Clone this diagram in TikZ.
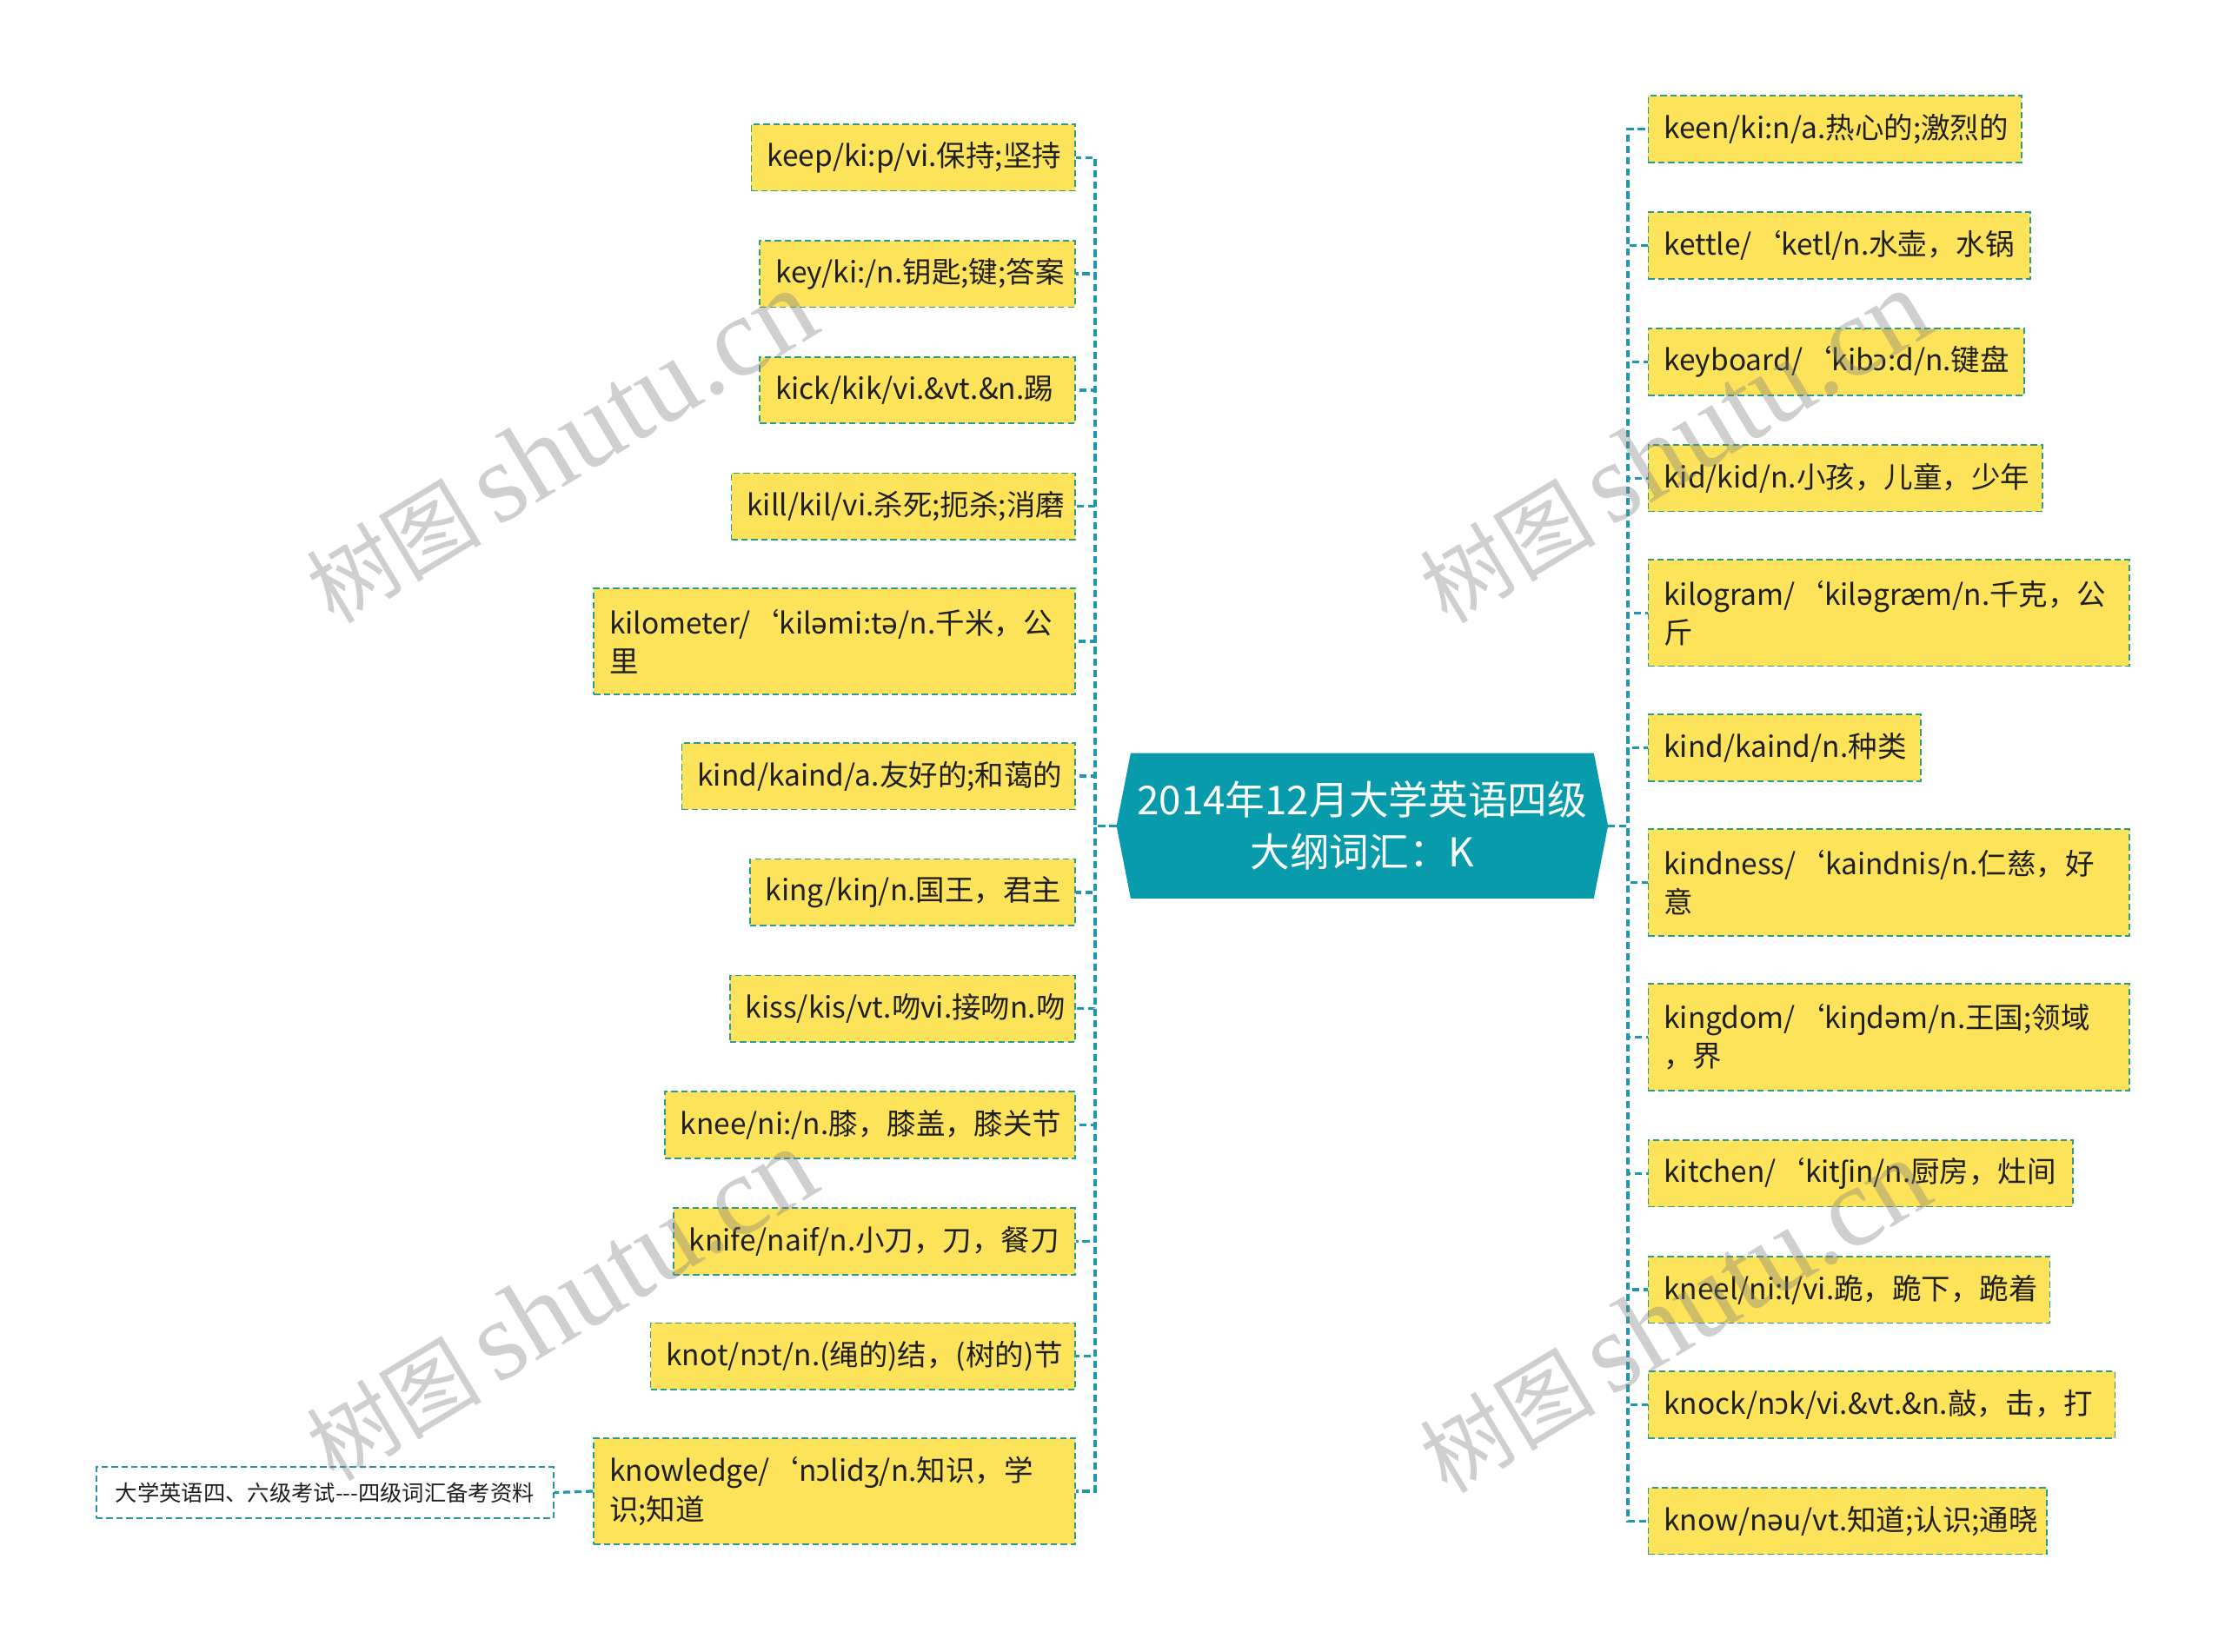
\documentclass[tikz,border=0pt]{standalone}
\usepackage{fontspec}
\setmainfont{Noto Sans CJK SC}
\newfontfamily\ipafont{Noto Sans}
\newfontfamily\wmlatin{Liberation Serif}
\newcommand\ip[1]{{\ipafont #1}}
\usetikzlibrary{backgrounds}
\definecolor{boxfill}{HTML}{FDE35A}
\definecolor{boxline}{HTML}{2A9A93}
\definecolor{connc}{HTML}{1E98AC}
\definecolor{rootfill}{HTML}{079BAB}
\definecolor{notline}{HTML}{2E90A4}
\tikzset{
  leaf/.style={draw=boxline, line width=1.1pt, dash pattern=on 4.5pt off 2.5pt,
    fill=boxfill, font=\fontsize{20.5}{27}\selectfont, text=black!88,
    inner xsep=11pt, inner ysep=0pt, minimum height=47pt, align=left},
  twoline/.style={minimum height=75pt},
  conn/.style={draw=connc, line width=2pt, dash pattern=on 5pt off 3pt},
  rootnode/.style={minimum width=346pt, minimum height=102pt, inner sep=0pt,
    align=center, font=\fontsize{28}{37}\selectfont, text=white},
  notebox/.style={draw=notline, line width=1.1pt, dash pattern=on 4.5pt off 2.5pt,
    fill=white, font=\fontsize{15.5}{20}\selectfont, text=black!88,
    minimum width=322pt, minimum height=36pt, inner sep=0pt},
  wm/.style={rotate=31, text=gray, opacity=0.38}
}
\begin{document}
\begin{tikzpicture}[x=1pt,y=-1pt]
\useasboundingbox (0,0) rectangle (1568,1164);
% root
\node[rootnode] (root) at (960,582) {2014年12月大学英语四级\\大纲词汇：K};
\begin{scope}[on background layer]
\fill[rootfill] (root.west) -- ([xshift=10pt]root.north west) -- ([xshift=-10pt]root.north east)
  -- (root.east) -- ([xshift=-10pt]root.south east) -- ([xshift=10pt]root.south west) -- cycle;
\end{scope}
% left leaves
\node[leaf,anchor=east,text width=206pt] (L1) at (758,111) {keep/ki:p/vi.保持;坚持};
\node[leaf,anchor=east,text width=200pt] (L2) at (758,193) {key/ki:/n.钥匙;键;答案};
\node[leaf,anchor=east,text width=200pt] (L3) at (758,275) {kick/kik/vi.\&vt.\&n.踢};
\node[leaf,anchor=east,text width=220pt] (L4) at (758,357) {kill/kil/vi.杀死;扼杀;消磨};
\node[leaf,twoline,anchor=east,text width=317pt] (L5) at (758,452) {kilometer/‘kil\ip{ə}mi:t\ip{ə}/n.千米，公\\里};
\node[leaf,anchor=east,text width=255pt] (L6) at (758,547) {kind/kaind/a.友好的;和蔼的};
\node[leaf,anchor=east,text width=207pt] (L7) at (758,629) {king/ki\ip{ŋ}/n.国王，君主};
\node[leaf,anchor=east,text width=221pt] (L8) at (758,711) {kiss/kis/vt.吻vi.接吻n.吻};
\node[leaf,anchor=east,text width=267pt] (L9) at (758,793) {knee/ni:/n.膝，膝盖，膝关节};
\node[leaf,anchor=east,text width=261pt] (L10) at (758,875) {knife/naif/n.小刀，刀，餐刀};
\node[leaf,anchor=east,text width=277pt] (L11) at (758,956) {knot/n\ip{ɔ}t/n.(绳的)结，(树的)节};
\node[leaf,twoline,anchor=east,text width=317pt] (L12) at (758,1051) {knowledge/‘n\ip{ɔ}lid\ip{ʒ}/n.知识，学\\识;知道};
% right leaves
\node[leaf,anchor=west,text width=241pt] (R1) at (1161,91) {keen/ki:n/a.热心的;激烈的};
\node[leaf,anchor=west,text width=247pt] (R2) at (1161,173) {kettle/‘ketl/n.水壶，水锅};
\node[leaf,anchor=west,text width=243pt] (R3) at (1161,255) {keyboard/‘kib\ip{ɔ}:d/n.键盘};
\node[leaf,anchor=west,text width=256pt] (R4) at (1161,337) {kid/kid/n.小孩，儿童，少年};
\node[leaf,twoline,anchor=west,text width=317pt] (R5) at (1161,432) {kilogram/‘kil\ip{ə}græm/n.千克，公\\斤};
\node[leaf,anchor=west,text width=170pt] (R6) at (1161,527) {kind/kaind/n.种类};
\node[leaf,twoline,anchor=west,text width=317pt] (R7) at (1161,622) {kindness/‘kaindnis/n.仁慈，好\\意};
\node[leaf,twoline,anchor=west,text width=317pt] (R8) at (1161,731) {kingdom/‘ki\ip{ŋ}d\ip{ə}m/n.王国;领域\\，界};
\node[leaf,anchor=west,text width=277pt] (R9) at (1161,827) {kitchen/‘kit\ip{ʃ}in/n.厨房，灶间};
\node[leaf,anchor=west,text width=261pt] (R10) at (1161,909) {kneel/ni:l/vi.跪，跪下，跪着};
\node[leaf,anchor=west,text width=307pt] (R11) at (1161,990) {knock/n\ip{ɔ}k/vi.\&vt.\&n.敲，击，打};
\node[leaf,anchor=west,text width=259pt] (R12) at (1161,1072) {know/n\ip{ə}u/vt.知道;认识;通晓};
% note
\node[notebox] (note) at (229,1052) {大学英语四、六级考试-{}-{}-四级词汇备考资料};
% connectors
\foreach \n in {1,...,12} {
  \draw[conn] (root.west) -- ++(-15,0) |- (L\n.east);
  \draw[conn] (root.east) -- ++(14,0) |- (R\n.west);
}
\draw[conn] (L12.west) -- (note.east);
% watermarks
\foreach \cx/\cy in {395/315, 395/920, 1180/315, 1180/928} {
  \node[wm] (wm\cx\cy) at (\cx,\cy) {\fontsize{62}{70}\selectfont 树图\,{\wmlatin\fontsize{80}{90}\selectfont shutu.cn}};
}
\end{tikzpicture}
\end{document}
